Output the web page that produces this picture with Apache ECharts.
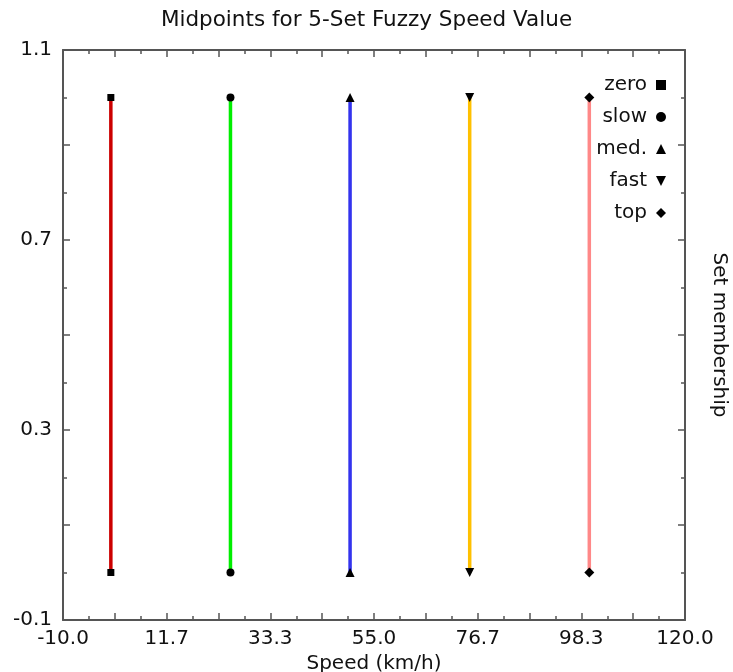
<!DOCTYPE html>
<html>
<head>
<meta charset="utf-8">
<script src="https://cdn.jsdelivr.net/npm/echarts@6/dist/echarts.min.js"></script>
<style>
  html, body { margin: 0; padding: 0; background: #fff; }
  #chart { width: 733px; height: 672px; }
</style>
</head>
<body>
<div id="chart"></div>
<script>
// sets and their midpoints (km/h), membership runs 0..1
const setNames = ["zero", "slow", "med.", "fast", "top"];
const midpoints = [0, 25, 50, 75, 100];
const memberLow = [0, 0, 0, 0, 0];
const memberHigh = [1, 1, 1, 1, 1];
const lineColors = ["#cc0000", "#00ee00", "#3333ee", "#ffc000", "#ff8888"];
const symbols = ["rect", "circle", "triangle", "path://M0,0L10,0L5,10Z", "diamond"];
const symbolSizes = [7, 8, 9, 9, 10];

// tick labels (every 4th tick step on the tick axes)
const xTickLabels = ["-10.0", "11.7", "33.3", "55.0", "76.7", "98.3", "120.0"];
const yTickLabels = ["-0.1", "0.3", "0.7", "1.1"];

const font = "DejaVu Sans";
const axisColor = "#555";
const fs = 20;

const chart = echarts.init(document.getElementById("chart"));

const series = setNames.map((name, i) => ({
  name: name,
  type: "line",
  xAxisIndex: 0,
  yAxisIndex: 0,
  data: [[midpoints[i], memberLow[i]], [midpoints[i], memberHigh[i]]],
  symbol: symbols[i],
  symbolSize: symbolSizes[i],
  showAllSymbol: true,
  lineStyle: { color: lineColors[i], width: 3.5 },
  itemStyle: { color: "#000" },
  emphasis: { disabled: true },
  animation: false,
  z: 3,
}));

const tickAxis = (pos, labels, max, showLabel, margin) => ({
  type: "value",
  position: pos,
  min: 0,
  max: max,
  interval: 2,
  axisLine: { show: true, onZero: false, lineStyle: { color: axisColor, width: 2 } },
  axisTick: { show: true, inside: true, length: 7, lineStyle: { color: axisColor, width: 1.5 } },
  minorTick: { show: true, splitNumber: 2, length: 4, lineStyle: { color: axisColor, width: 1.5 } },
  splitLine: { show: false },
  axisLabel: {
    show: showLabel,
    color: "#111",
    fontFamily: font,
    fontSize: fs,
    margin: margin,
    formatter: (v) => (v % 4 === 0 ? labels[v / 4] : ""),
  },
});

const option = {
  backgroundColor: "#fff",
  title: {
    text: "Midpoints for 5-Set Fuzzy Speed Value",
    left: "center",
    top: 4,
    textStyle: { fontFamily: font, fontSize: 21.5, fontWeight: "normal", color: "#111" },
  },
  legend: {
    data: setNames.map((n, i) => ({ name: n, icon: symbols[i] })),
    orient: "vertical",
    align: "right",
    right: 62,
    top: 70,
    itemWidth: 10,
    itemHeight: 10,
    itemGap: 12,
    textStyle: { fontFamily: font, fontSize: fs, lineHeight: 20, color: "#111", padding: [0, 4, 0, 0] },
    selectedMode: false,
  },
  grid: { left: 63, right: 48, top: 50, bottom: 52, containLabel: false, outerBoundsMode: "none" },
  xAxis: [
    {
      type: "value",
      min: -10,
      max: 120,
      show: false,
    },
    Object.assign(tickAxis("bottom", xTickLabels, 24, true, 9), {
      name: "Speed (km/h)",
      nameLocation: "middle",
      nameGap: 28,
      nameTextStyle: { fontFamily: font, fontSize: fs, color: "#111" },
    }),
    tickAxis("top", xTickLabels, 24, false, 10),
  ],
  yAxis: [
    { type: "value", min: -0.1, max: 1.1, show: false },
    tickAxis("left", yTickLabels, 12, true, 11),
    Object.assign(tickAxis("right", yTickLabels, 12, false, 10), {
      name: "Set membership",
      nameLocation: "middle",
      nameGap: 24,
      nameRotate: -90,
      nameTextStyle: { fontFamily: font, fontSize: fs, color: "#111" },
    }),
  ],
  series: series.concat([
    // tie the tick axes into the grid
    { type: "line", xAxisIndex: 1, yAxisIndex: 1, data: [], silent: true },
    { type: "line", xAxisIndex: 2, yAxisIndex: 2, data: [], silent: true },
  ]),
};

chart.setOption(option);
</script>
</body>
</html>
